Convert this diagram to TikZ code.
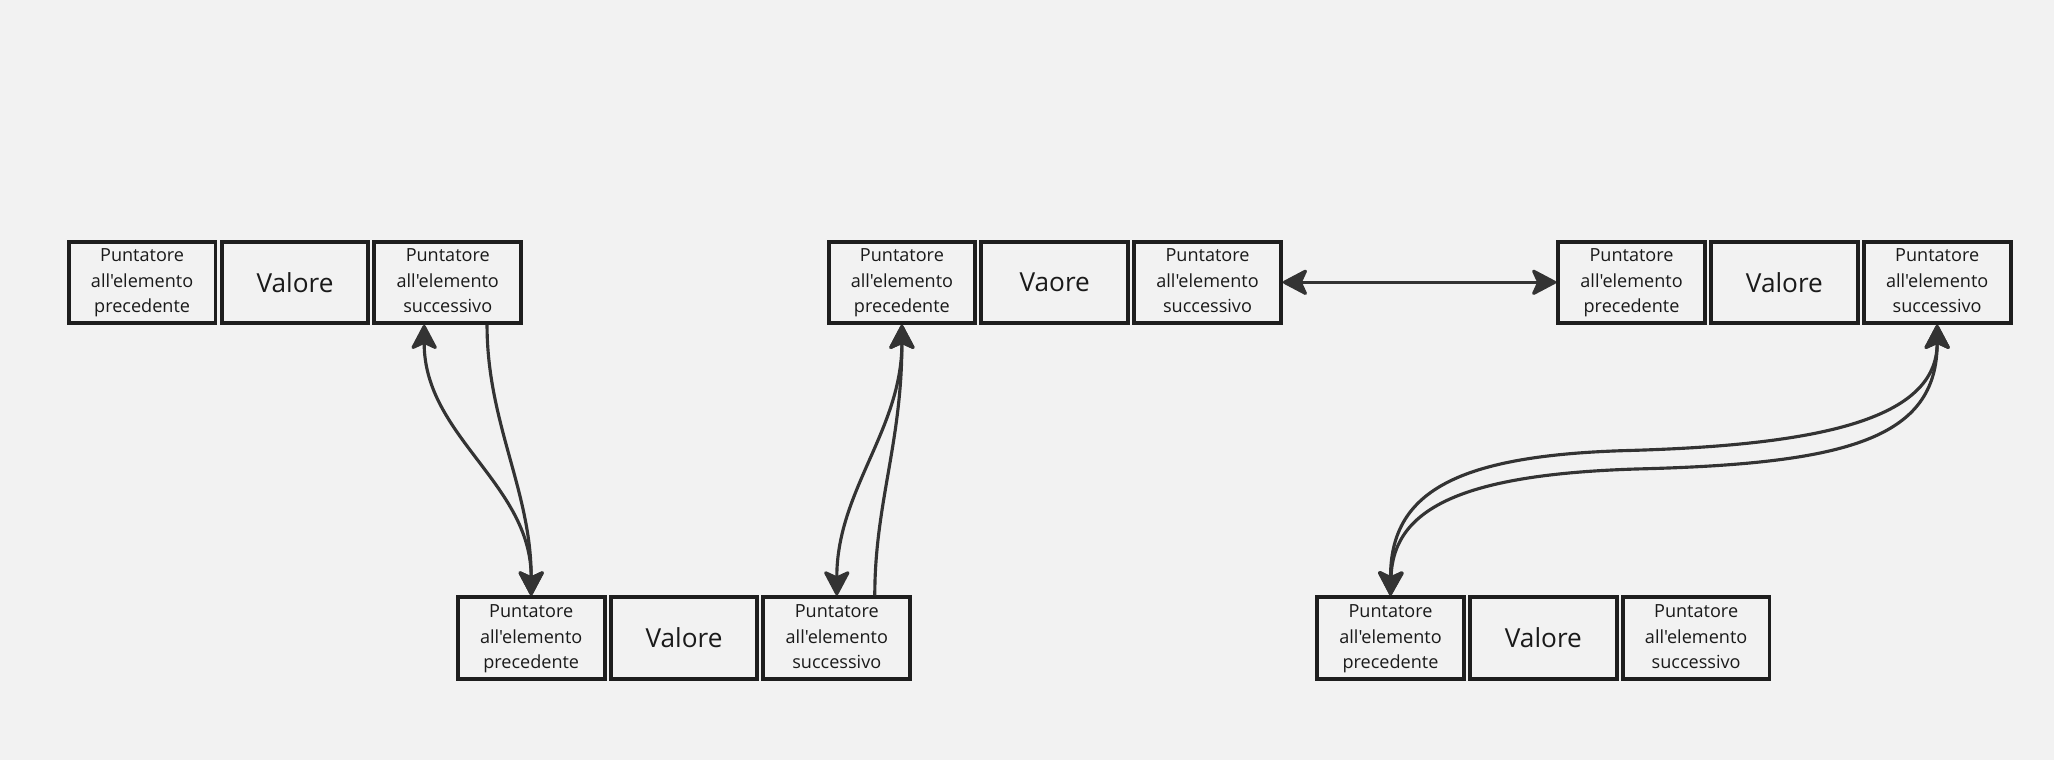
\documentclass[tikz,border=0pt]{standalone}
\usepackage{fontspec}
\newfontfamily\osf{Open Sans}
\usetikzlibrary{arrows.meta,calc}
\definecolor{bgc}{HTML}{F2F2F2}
\definecolor{boxc}{HTML}{1E1E1E}
\definecolor{linec}{HTML}{333333}
\definecolor{txtc}{HTML}{1A1A1A}
\newcommand{\ptxt}[1]{\strut Puntatore\\all'elemento\\#1\strut}
\begin{document}
\begin{tikzpicture}[x=1pt,y=-1pt,
  cell/.style={draw=boxc,line width=3pt,fill=bgc,minimum width=112pt,minimum height=62pt,
    inner sep=0pt,align=center,text=txtc,font=\osf\fontsize{13.8}{19.5}\selectfont},
  valcell/.style={cell,font=\osf\fontsize{20}{24}\selectfont},
  tipa/.tip={Stealth[length=21pt,width=22pt,inset=5pt,round]},
  conn/.style={draw=linec,line width=2.4pt,arrows={-tipa}},
  conn2/.style={conn,arrows={tipa-tipa}}
]
\fill[bgc] (0,0) rectangle (1568,580);
\useasboundingbox (0,0) rectangle (1568,580);
% Box A (top left)
\node[cell] (A1) at (108.5,215.5) {\ptxt{precedente}};
\node[valcell] (A2) at (225.2,215.5) {Valore};
\node[cell] (A3) at (341.8,215.5) {\ptxt{successivo}};
% Box B (top middle)
\node[cell] (B1) at (688.5,215.5) {\ptxt{precedente}};
\node[valcell] (B2) at (805.2,215.5) {Vaore};
\node[cell] (B3) at (921.8,215.5) {\ptxt{successivo}};
% Box C (top right)
\node[cell] (C1) at (1245.5,215.5) {\ptxt{precedente}};
\node[valcell] (C2) at (1362.2,215.5) {Valore};
\node[cell] (C3) at (1478.8,215.5) {\ptxt{successivo}};
% Box D (bottom left)
\node[cell] (D1) at (405.5,487) {\ptxt{precedente}};
\node[valcell] (D2) at (522.2,487) {Valore};
\node[cell] (D3) at (638.8,487) {\ptxt{successivo}};
% Box E (bottom right)
\node[cell] (E1) at (1061.5,487) {\ptxt{precedente}};
\node[valcell] (E2) at (1178.2,487) {Valore};
\node[cell] (E3) at (1294.8,487) {\ptxt{successivo}};
% connectors A <-> D
\coordinate (a1) at ($(A3.south)+(-18,0)$);
\coordinate (a2) at ($(A3.south)+(30,0)$);
\draw[conn2] (a1) .. controls ($(a1)+(0,85)$) and ($(D1.north)+(0,-85)$) .. (D1.north);
\draw[conn] (a2) .. controls ($(a2)+(0,75)$) and ($(D1.north)+(0,-80)$) .. (D1.north);
% connectors D <-> B
\coordinate (d2) at ($(D3.north)+(29,0)$);
\draw[conn2] (D3.north) .. controls ($(D3.north)+(0,-80)$) and ($(B1.south)+(0,80)$) .. (B1.south);
\draw[conn] (d2) .. controls ($(d2)+(0,-70)$) and ($(B1.south)+(0,90)$) .. (B1.south);
% B <-> C
\draw[conn2] (B3.east) -- (C1.west);
% E <-> C
\draw[conn2] (E1.north) .. controls ($(E1.north)+(0,-78)$) and (1110,348) .. (1240,344)
  .. controls (1390,340) and ($(C3.south)+(0,72)$) .. (C3.south);
\draw[conn2] (E1.north) .. controls ($(E1.north)+(2,-68)$) and (1120,362) .. (1250,358)
  .. controls (1410,354) and ($(C3.south)+(0,87)$) .. (C3.south);
\end{tikzpicture}
\end{document}
